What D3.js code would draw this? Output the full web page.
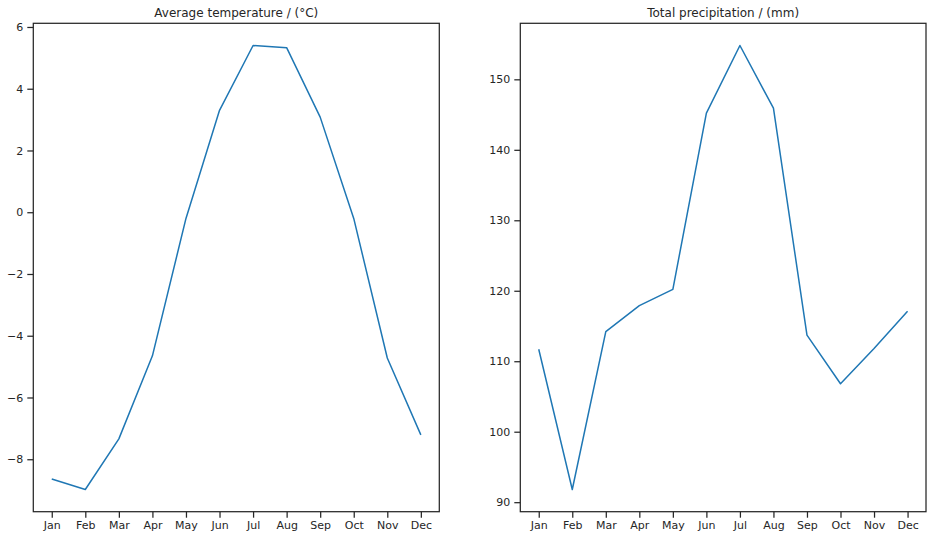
<!DOCTYPE html>
<html>
<head>
<meta charset="utf-8">
<script src="https://cdn.jsdelivr.net/npm/d3@7"></script>
<style>
  body { margin: 0; background: #fff; }
  svg text { font-family: "DejaVu Sans", sans-serif; fill: #262626; }
</style>
</head>
<body>
<div id="chart"></div>
<script>
// monthly climate values
const months = ["Jan", "Feb", "Mar", "Apr", "May", "Jun", "Jul", "Aug", "Sep", "Oct", "Nov", "Dec"];
const temperature = [-8.64, -8.98, -7.34, -4.65, -0.2, 3.3, 5.4, 5.33, 3.08, -0.2, -4.72, -7.21];
const precipitation = [111.7, 91.8, 114.2, 117.9, 120.2, 145.2, 154.8, 145.9, 113.7, 106.8, 111.8, 117.1];
const tempTicks = [-8, -6, -4, -2, 0, 2, 4, 6];
const precipTicks = [90, 100, 110, 120, 130, 140, 150];

const width = 932, height = 539;
const ink = "#262626";

const svg = d3.select("#chart")
    .append("svg")
    .attr("width", width)
    .attr("height", height);

// pad the data range by 5% like matplotlib does
function padded(vals) {
    const [lo, hi] = d3.extent(vals);
    const m = (hi - lo) * 0.05;
    return [lo - m, hi + m];
}

function panel(left, right, values, ticks, title) {
    const top = 23.3, bottom = 511.7;

    const x = d3.scaleLinear()
        .domain([-0.55, months.length - 1 + 0.55])
        .range([left, right]);

    const y = d3.scaleLinear()
        .domain(padded(values))
        .range([bottom, top]);

    const g = svg.append("g");

    g.append("g")
      .attr("transform", `translate(0,${bottom})`)
      .call(d3.axisBottom(x)
          .tickValues(d3.range(months.length))
          .tickFormat(i => months[i])
          .tickSize(6)
          .tickPadding(4)
          .tickSizeOuter(0))
      .call(a => a.select(".domain").remove());

    g.append("g")
      .attr("transform", `translate(${left},0)`)
      .call(d3.axisLeft(y)
          .tickValues(ticks)
          .tickSize(6)
          .tickPadding(4)
          .tickSizeOuter(0))
      .call(a => a.select(".domain").remove());

    g.selectAll(".tick line").attr("stroke", ink).attr("stroke-width", 1.25);
    g.selectAll(".tick text")
        .attr("font-size", 11)
        .attr("font-family", "DejaVu Sans")
        .attr("fill", ink);

    let line = d3.line()
        .x((d, i) => x(i))
        .y(d => y(d));

    g.append("path")
        .datum(values)
        .attr("d", line)
        .attr("fill", "none")
        .attr("stroke", "#1f77b4")
        .attr("stroke-width", 1.5)
        .attr("stroke-linejoin", "round");

    g.append("rect")
        .attr("x", left)
        .attr("y", top)
        .attr("width", right - left)
        .attr("height", bottom - top)
        .attr("fill", "none")
        .attr("stroke", ink)
        .attr("stroke-width", 1.25);

    g.append("text")
        .attr("x", (left + right) / 2)
        .attr("y", top - 6)
        .attr("text-anchor", "middle")
        .attr("font-size", 12)
        .text(title);
}

panel(33.3, 439.3, temperature, tempTicks, "Average temperature / (°C)");
panel(520.3, 926, precipitation, precipTicks, "Total precipitation / (mm)");
</script>
</body>
</html>
